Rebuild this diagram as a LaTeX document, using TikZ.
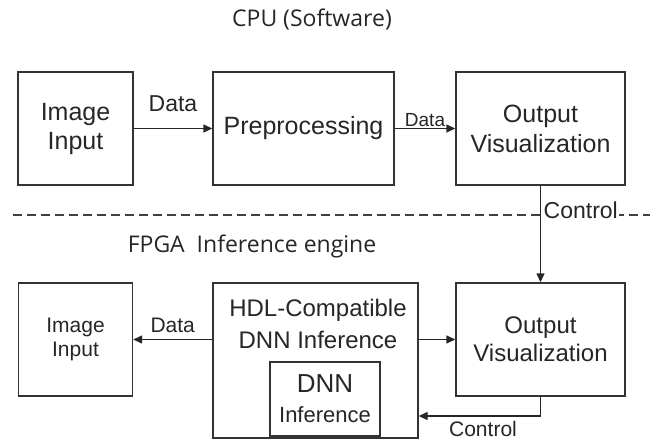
\documentclass[tikz,border=0pt]{standalone}
\usepackage{fontspec}
\setmainfont{Liberation Sans}
\newfontfamily\titlefont{Open Sans}
\usetikzlibrary{arrows.meta}
\tikzset{
  box/.style={draw=black!80, line width=1.4pt, rectangle, inner sep=0pt, align=center, text=black!85},
  arr/.style={draw=black!85, line width=1.4pt, -{Triangle[length=9pt,width=8pt]}},
  lbl/.style={inner sep=0pt, text=black!85},
  ttl/.style={inner sep=0pt, text=black!85, font=\titlefont\fontsize{23}{27}\selectfont},
}
\newcommand{\fs}[2]{\fontsize{#1}{#2}\selectfont}
\begin{document}
\begin{tikzpicture}[x=1pt,y=-1pt]
\useasboundingbox (0,0) rectangle (659,441);
% titles
\node[ttl] (cpu) at (312,20) {CPU (Software)};
\node[ttl] (fpga) at (252,246) {FPGA\ \ Inference engine};
% top row
\node[box, minimum width=115pt, minimum height=113pt, font=\fs{25}{29}] (img1) at (75.5,128.5) {Image\\Input};
\node[box, minimum width=181pt, minimum height=113pt, font=\fs{25}{29}] (pre) at (303.5,128.5) {Preprocessing};
\node[box, minimum width=169pt, minimum height=113pt, font=\fs{25}{30}] (out1) at (540.5,128.5) {Output\\Visualization};
% bottom row
\node[box, minimum width=114pt, minimum height=113pt, font=\fs{21}{24}] (img2) at (75.5,339.5) {Image\\Input};
\node[box, minimum width=205pt, minimum height=155pt] (hdl) at (315.5,360.5) {};
\node[lbl, align=center, font=\fs{24}{32}] (hdltext) at (318,324) {HDL-Compatible\\DNN Inference};
\node[box, minimum width=110pt, minimum height=74pt, font=\fs{22}{30}] (dnn) at (325,399) {{\fs{26}{30}DNN}\\Inference};
\node[box, minimum width=169pt, minimum height=113pt, font=\fs{24}{28}] (out2) at (540.5,339.5) {Output\\Visualization};
% dashed separator
\coordinate (dl) at (13,215);
\coordinate (dr) at (650,215);
\draw[black!75, line width=1.3pt, dash pattern=on 9pt off 5pt] (dl) -- (dr);
% connectors top
\draw[arr] (img1.east) -- (pre.west) node[lbl, midway, above=16pt, font=\fs{23}{26}] (d1) {Data};
\draw[arr] (pre.east) -- (out1.west) node[lbl, midway, above=1pt, font=\fs{19}{22}] (d2) {Data};
\draw[arr] (out1.south) -- (out2.north);
\node[lbl, anchor=west, fill=white, inner sep=1.5pt, font=\fs{23}{26}] (c1) at (542,210) {Control};
% connectors bottom
\draw[arr] (hdl.west |- img2.east) -- (img2.east) node[lbl, midway, above=6pt, font=\fs{21}{24}] (d3) {Data};
\draw[arr] (hdl.east |- out2.west) -- (out2.west);
\coordinate (cb) at (540.5,416);
\draw[arr] (out2.south) -- (cb) -- (hdl.east |- cb);
\node[lbl, font=\fs{21}{24}] (c2) at (483,429) {Control};
\end{tikzpicture}
\end{document}
